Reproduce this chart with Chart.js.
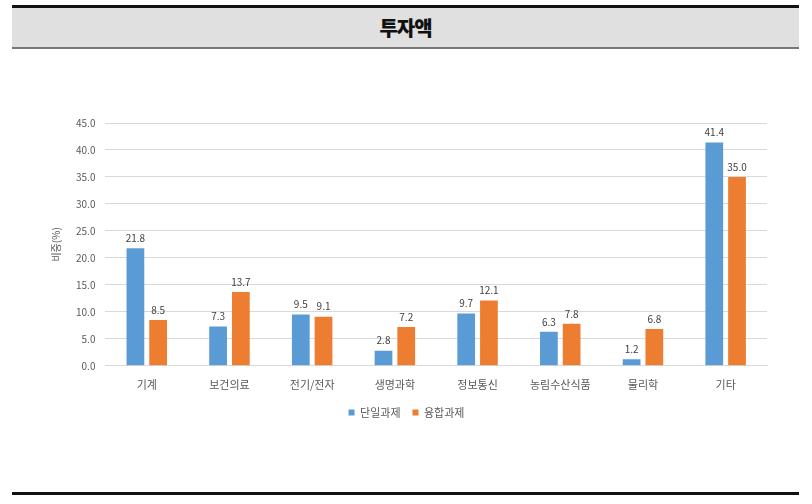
<!DOCTYPE html>
<html>
<head>
<meta charset="utf-8">
<script src="https://cdn.jsdelivr.net/npm/chart.js@4"></script>
<style>
  html, body { margin: 0; padding: 0; background: #fff; }
  body { width: 812px; height: 504px; position: relative; overflow: hidden; font-family: 'Noto Sans CJK KR', sans-serif; }
  .topline { position: absolute; left: 12px; top: 5px; width: 787px; height: 3px; background: #111; }
  .header { position: absolute; left: 12px; top: 8px; width: 787px; height: 39px; background: #e0e0e0;
            text-align: center; line-height: 39px; font-size: 20px; font-weight: 900; color: #111; letter-spacing: -1px; }
  .headline { position: absolute; left: 12px; top: 47px; width: 787px; height: 2px; background: #777; }
  .bottomline { position: absolute; left: 12px; top: 492px; width: 787px; height: 3px; background: #111; }
  .wrap { position: absolute; left: 0; top: 60px; width: 812px; height: 380px; }
</style>
</head>
<body>
<div class="topline"></div>
<div class="header">투자액</div>
<div class="headline"></div>
<div class="bottomline"></div>
<div class="wrap"><canvas id="chartInvest"></canvas></div>
<script>
// ===== 투자액 - 분야별 비중 =====
const categories = ['기계', '보건의료', '전기/전자', '생명과학', '정보통신', '농림수산식품', '물리학', '기타'];
const singleValues = [21.8, 7.3, 9.5, 2.8, 9.7, 6.3, 1.2, 41.4];
const fusionValues = [8.5, 13.7, 9.1, 7.2, 12.1, 7.8, 6.8, 35.0];
const seriesNames = ['단일과제', '융합과제'];

const COLORS = {
  blue: '#5b9bd5',
  orange: '#ed7d31',
  text: '#595959',
  grid: '#d9d9d9',
};

const FONT = "'Noto Sans CJK KR', sans-serif";

// value labels above each bar
const barLabels = {
  id: 'barLabels',
  afterDatasetsDraw(chart) {
    const ctx = chart.ctx;
    ctx.save();
    ctx.font = '10px ' + FONT;
    ctx.fillStyle = '#404040';
    ctx.textAlign = 'center';
    ctx.textBaseline = 'bottom';
    chart.data.datasets.forEach((ds, i) => {
      chart.getDatasetMeta(i).data.forEach((bar, j) => {
        ctx.fillText(ds.data[j].toFixed(1), bar.x, bar.y - 5);
      });
    });
    ctx.restore();
  }
};

new Chart(document.getElementById('chartInvest'), {
  type: 'bar',
  data: {
    labels: categories,
    datasets: [
      {
        label: seriesNames[0],
        data: singleValues,
        backgroundColor: COLORS.blue,
        barPercentage: 0.78,
        categoryPercentage: 0.55,
      },
      {
        label: seriesNames[1],
        data: fusionValues,
        backgroundColor: COLORS.orange,
        barPercentage: 0.78,
        categoryPercentage: 0.55,
      }
    ]
  },
  options: {
    responsive: true,
    maintainAspectRatio: false,
    animation: false,
    layout: { padding: { left: 46, right: 45, top: 63, bottom: 12 } },
    plugins: {
      legend: {
        position: 'bottom',
        labels: {
          boxWidth: 6,
          boxHeight: 6,
          padding: 12,
          color: COLORS.text,
          font: { family: FONT, size: 11 }
        }
      },
      tooltip: { enabled: false }
    },
    scales: {
      x: {
        grid: { display: false },
        border: { color: COLORS.grid },
        ticks: { color: COLORS.text, font: { family: FONT, size: 11 }, maxRotation: 0, padding: 4 }
      },
      y: {
        min: 0,
        max: 45,
        grid: { color: COLORS.grid, drawTicks: false },
        border: { display: false },
        ticks: {
          stepSize: 5,
          padding: 10,
          color: COLORS.text,
          font: { family: FONT, size: 10 },
          callback: function(val) { return val.toFixed(1); }
        },
        title: {
          display: true,
          text: '비중(%)',
          color: COLORS.text,
          font: { family: FONT, size: 10 },
          padding: { bottom: 4 }
        }
      }
    }
  },
  plugins: [barLabels]
});
</script>
</body>
</html>
